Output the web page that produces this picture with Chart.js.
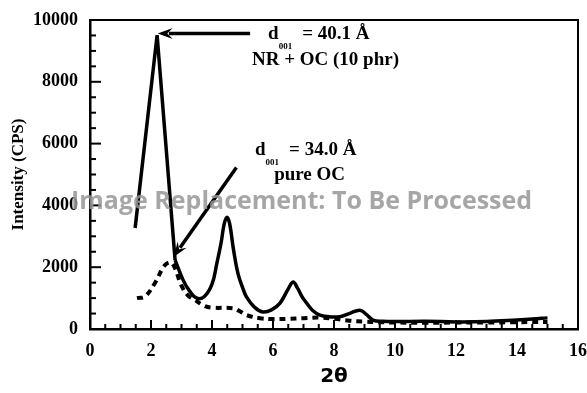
<!DOCTYPE html>
<html>
<head>
<meta charset="utf-8">
<script src="https://cdn.jsdelivr.net/npm/chart.js@4"></script>
<style>
  html, body { margin: 0; padding: 0; background: #fff; }
  #wrap { width: 587px; height: 393px; }
</style>
</head>
<body>
<div id="wrap"><canvas id="myChart" width="587" height="393"></canvas></div>
<script>
// NR + OC (10 phr) - solid line (first three points form the sharp d001 peak)
const xSolid = [1.48, 2.2, 2.79, 3.05, 3.25, 3.5, 3.75, 4.0, 4.16, 4.3, 4.4, 4.49, 4.58, 4.7, 4.85, 5.0, 5.13, 5.4, 5.67, 5.95, 6.23, 6.5, 6.66, 6.8, 6.95, 7.1, 7.3, 7.54, 7.9, 8.2, 8.5, 8.85, 9.05, 9.28, 9.6, 10, 11, 12, 13, 14, 14.5, 15];
const ySolid = [3270, 9510, 2230, 1590, 1250, 1000, 1050, 1450, 2130, 2800, 3400, 3620, 3400, 2600, 1800, 1350, 1040, 700, 550, 620, 840, 1300, 1520, 1330, 1050, 840, 600, 450, 390, 400, 500, 610, 480, 290, 250, 240, 250, 230, 240, 290, 320, 360];
const solidPeakPoints = 3;

// pure OC - dashed line
const xDashed = [1.54, 1.8, 2.13, 2.46, 2.69, 3.0, 3.2, 3.44, 3.77, 4.0, 4.7, 4.9, 5.13, 5.57, 6.0, 6.5, 7.0, 7.5, 8.0, 8.5, 9.0, 9.5, 10, 11, 12, 13, 14, 15];
const yDashed = [1000, 1050, 1490, 2070, 2130, 1400, 1100, 940, 740, 690, 670, 580, 450, 350, 320, 330, 350, 370, 330, 270, 240, 220, 210, 200, 210, 210, 220, 230];

const xTicks = [0, 2, 4, 6, 8, 10, 12, 14, 16];
const yTicks = [0, 2000, 4000, 6000, 8000, 10000];

const serif = '"Liberation Serif", "Times New Roman", serif';

const toPoints = (xs, ys) => xs.map((x, i) => ({ x: x, y: ys[i] }));

function arrow(ctx, x1, y1, x2, y2) {
    const ang = Math.atan2(y2 - y1, x2 - x1);
    const head = 16;
    ctx.beginPath();
    ctx.moveTo(x1, y1);
    ctx.lineTo(x2 - Math.cos(ang) * head * 0.7, y2 - Math.sin(ang) * head * 0.7);
    ctx.stroke();
    ctx.beginPath();
    ctx.moveTo(x2, y2);
    ctx.lineTo(x2 - head * Math.cos(ang - 0.35), y2 - head * Math.sin(ang - 0.35));
    ctx.lineTo(x2 - head * 0.6 * Math.cos(ang), y2 - head * 0.6 * Math.sin(ang));
    ctx.lineTo(x2 - head * Math.cos(ang + 0.35), y2 - head * Math.sin(ang + 0.35));
    ctx.closePath();
    ctx.fill();
}

function dLabel(ctx, x, y, value) {
    ctx.textAlign = 'left';
    ctx.textBaseline = 'middle';
    ctx.font = 'bold 19px ' + serif;
    ctx.fillText('d', x, y);
    let w = ctx.measureText('d').width;
    ctx.font = 'bold 9px ' + serif;
    ctx.fillText('001', x + w, y + 12);
    w += ctx.measureText('001').width + 10;
    ctx.font = 'bold 19px ' + serif;
    ctx.fillText('= ' + value, x + w, y);
}

const decor = {
    id: 'decor',
    afterDraw(chart) {
        const ctx = chart.ctx;
        const xs = chart.scales.x, ys = chart.scales.y;
        const a = chart.chartArea;
        ctx.save();
        ctx.strokeStyle = '#000';
        ctx.fillStyle = '#000';
        // box
        ctx.lineWidth = 2;
        ctx.beginPath();
        ctx.moveTo(a.left, a.top);
        ctx.lineTo(a.right, a.top);
        ctx.lineTo(a.right, a.bottom);
        ctx.stroke();
        // inward ticks
        for (let v = 0; v <= 10000; v += 500) {
            const py = ys.getPixelForValue(v);
            const len = v % 2000 === 0 ? 11 : 6;
            ctx.beginPath();
            ctx.moveTo(a.left, py);
            ctx.lineTo(a.left + len, py);
            ctx.stroke();
        }
        for (let v = 0; v <= 16; v += 0.5) {
            const px = xs.getPixelForValue(v);
            const len = v % 2 === 0 ? 9 : 5;
            ctx.beginPath();
            ctx.moveTo(px, a.bottom);
            ctx.lineTo(px, a.bottom - len);
            ctx.stroke();
        }
        // arrows
        ctx.lineWidth = 3.5;
        arrow(ctx, xs.getPixelForValue(5.25), ys.getPixelForValue(9560),
                   xs.getPixelForValue(2.22), ys.getPixelForValue(9560));
        arrow(ctx, xs.getPixelForValue(4.8), ys.getPixelForValue(5230),
                   xs.getPixelForValue(2.74), ys.getPixelForValue(2330));
        // annotations
        dLabel(ctx, xs.getPixelForValue(5.84), ys.getPixelForValue(9530), '40.1 Å');
        dLabel(ctx, xs.getPixelForValue(5.41), ys.getPixelForValue(5780), '34.0 Å');
        ctx.textAlign = 'center';
        ctx.font = 'bold 19px ' + serif;
        ctx.fillText('NR + OC (10 phr)', xs.getPixelForValue(7.72), ys.getPixelForValue(8700));
        ctx.fillText('pure OC', xs.getPixelForValue(7.2), ys.getPixelForValue(4980));
        // overlay text
        ctx.fillStyle = 'rgba(150,150,150,0.85)';
        ctx.font = 'bold 25px "Open Sans", sans-serif';
        ctx.textAlign = 'left';
        ctx.fillText('Image Replacement: To Be Processed', 71, 202);
        ctx.restore();
    }
};

const solidStyle = {
    borderColor: '#000',
    borderWidth: 3.5,
    pointRadius: 0,
    fill: false
};

const data = {
    datasets: [Object.assign({
        label: 'NR + OC (10 phr)',
        data: toPoints(xSolid.slice(0, solidPeakPoints), ySolid.slice(0, solidPeakPoints)),
        tension: 0,
        borderJoinStyle: 'miter'
    }, solidStyle),
    Object.assign({
        label: 'NR + OC (10 phr) ',
        data: toPoints(xSolid.slice(solidPeakPoints - 1), ySolid.slice(solidPeakPoints - 1)),
        tension: 0.4
    }, solidStyle),
    {
        label: 'pure OC',
        data: toPoints(xDashed, yDashed),
        borderColor: '#000',
        borderWidth: 4,
        borderDash: [6, 5],
        pointRadius: 0,
        tension: 0.4,
        fill: false
    }]
};

const config = {
    type: 'line',
    data: data,
    options: {
        responsive: false,
        animation: false,
        layout: { padding: { top: 20, right: 9, left: 4, bottom: 0 } },
        plugins: { legend: { display: false }, tooltip: { enabled: false } },
        scales: {
            x: {
                type: 'linear',
                min: 0,
                max: 16,
                afterFit: (s) => { s.height = 64; s.paddingLeft = 0; s.paddingRight = 0; },
                afterBuildTicks: (s) => { s.ticks = xTicks.map(v => ({ value: v })); },
                grid: { display: false, drawTicks: false },
                border: { display: true, color: '#000', width: 2.5 },
                ticks: { color: '#000', padding: 12, maxRotation: 0, callback: v => String(v), font: { family: serif, weight: 'bold', size: 18 } },
                title: { display: true, text: '2θ', color: '#000', padding: { top: 6 }, font: { family: '"DejaVu Sans", sans-serif', weight: 'bold', size: 20 } }
            },
            y: {
                min: 0,
                max: 10000,
                afterFit: (s) => { s.width = 86; s.paddingTop = 0; s.paddingBottom = 0; },
                afterBuildTicks: (s) => { s.ticks = yTicks.map(v => ({ value: v })); },
                grid: { display: false, drawTicks: false },
                border: { display: true, color: '#000', width: 2.5 },
                ticks: { color: '#000', padding: 12, callback: v => String(v), font: { family: serif, weight: 'bold', size: 18 } },
                title: { display: true, text: 'Intensity (CPS)', color: '#000', font: { family: serif, weight: 'bold', size: 17 } }
            }
        }
    },
    plugins: [decor]
};

const myChart = new Chart(document.getElementById('myChart'), config);
</script>
</body>
</html>
